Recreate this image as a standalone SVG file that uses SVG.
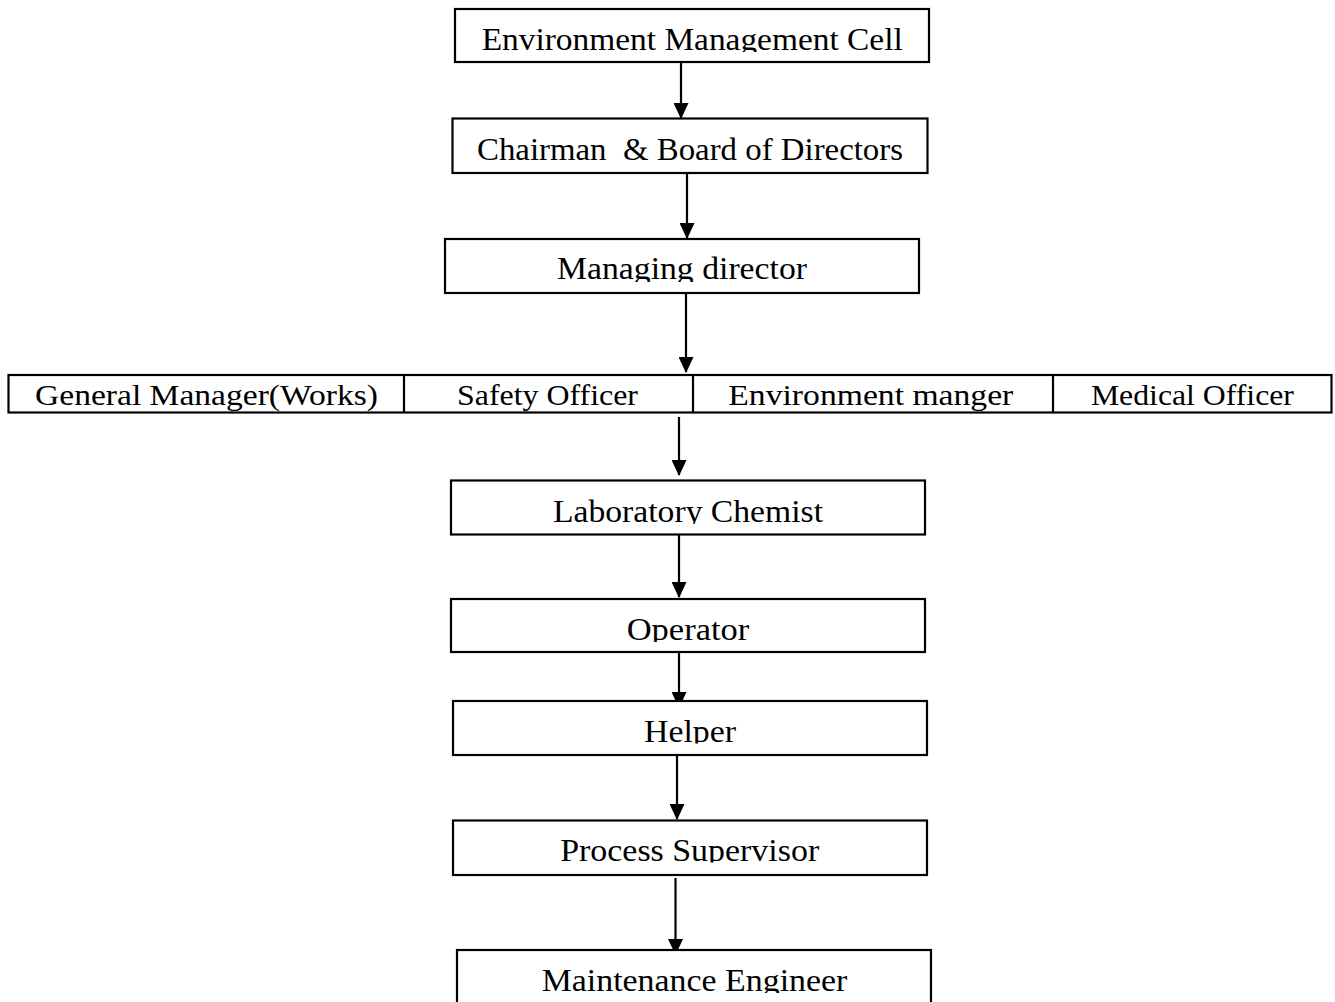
<svg xmlns="http://www.w3.org/2000/svg" width="1335" height="1002" viewBox="0 0 1335 1002">
<style>
.box{fill:#fff;stroke:#000;stroke-width:2.2}
.lbl{font-family:"Liberation Serif","Times New Roman",serif;font-size:32px;fill:#000;text-anchor:middle}
.rl{font-family:"Liberation Serif","Times New Roman",serif;font-size:30px;fill:#000;text-anchor:middle}
.conn{stroke:#000;stroke-width:2.2;fill:none}
</style>
<defs>
<marker id="ah" viewBox="0 0 16 15" refX="15" refY="7.5" markerWidth="16" markerHeight="15" markerUnits="userSpaceOnUse" orient="auto">
<path d="M0,0 L16,7.5 L0,15 z" fill="#000"/>
</marker>
<clipPath id="c1"><rect x="455" y="9" width="474" height="43"/></clipPath>
<clipPath id="c3"><rect x="445" y="239" width="474" height="43"/></clipPath>
<clipPath id="c5"><rect x="451" y="480" width="474" height="44"/></clipPath>
<clipPath id="c6"><rect x="451" y="599" width="474" height="43"/></clipPath>
<clipPath id="c7"><rect x="453" y="701" width="474" height="42.5"/></clipPath>
<clipPath id="c8"><rect x="453" y="820" width="474" height="42.5"/></clipPath>
<clipPath id="c9"><rect x="457" y="950" width="474" height="43"/></clipPath>
</defs>
<rect width="1335" height="1002" fill="#fff"/>

<g id="connectors">
<line class="conn" x1="681" y1="62" x2="681" y2="118" marker-end="url(#ah)"/>
<line class="conn" x1="687" y1="173" x2="687" y2="238" marker-end="url(#ah)"/>
<line class="conn" x1="686" y1="293" x2="686" y2="372" marker-end="url(#ah)"/>
<line class="conn" x1="679" y1="417" x2="679" y2="475" marker-end="url(#ah)"/>
<line class="conn" x1="679" y1="534" x2="679" y2="597" marker-end="url(#ah)"/>
<line class="conn" x1="679" y1="650" x2="679" y2="707" marker-end="url(#ah)"/>
<line class="conn" x1="677" y1="755" x2="677" y2="819" marker-end="url(#ah)"/>
<line class="conn" x1="675.5" y1="878" x2="675.5" y2="954" marker-end="url(#ah)"/>
</g>

<g id="n-emc">
<rect class="box" x="455" y="9" width="474" height="53"/>
<text class="lbl" x="692.2" y="50" textLength="421" lengthAdjust="spacingAndGlyphs" clip-path="url(#c1)">Environment Management Cell</text>
</g>
<g id="n-chairman">
<rect class="box" x="452.5" y="118.5" width="475" height="54.5"/>
<text class="lbl" x="690" y="160" textLength="426" lengthAdjust="spacingAndGlyphs" xml:space="preserve">Chairman  &amp; Board of Directors</text>
</g>
<g id="n-md">
<rect class="box" x="445" y="239" width="474" height="54"/>
<text class="lbl" x="682" y="279" textLength="250" lengthAdjust="spacingAndGlyphs" clip-path="url(#c3)">Managing director</text>
</g>

<g id="n-row">
<rect class="box" x="8.5" y="375" width="1323" height="37.5"/>
<line class="conn" x1="404" y1="375" x2="404" y2="412.5"/>
<line class="conn" x1="693" y1="375" x2="693" y2="412.5"/>
<line class="conn" x1="1053" y1="375" x2="1053" y2="412.5"/>
</g>
<g id="n-gm">
<text class="rl" x="206.5" y="405" textLength="343" lengthAdjust="spacingAndGlyphs">General Manager(Works)</text>
</g>
<g id="n-safety">
<text class="rl" x="547.5" y="405" textLength="181" lengthAdjust="spacingAndGlyphs">Safety Officer</text>
</g>
<g id="n-envmgr">
<text class="rl" x="870.8" y="405" textLength="285" lengthAdjust="spacingAndGlyphs">Environment manger</text>
</g>
<g id="n-medical">
<text class="rl" x="1192.4" y="405" textLength="203" lengthAdjust="spacingAndGlyphs">Medical Officer</text>
</g>

<g id="n-lab">
<rect class="box" x="451" y="480.5" width="474" height="54"/>
<text class="lbl" x="688" y="521.7" textLength="270" lengthAdjust="spacingAndGlyphs" clip-path="url(#c5)">Laboratory Chemist</text>
</g>
<g id="n-operator">
<rect class="box" x="451" y="599" width="474" height="53"/>
<text class="lbl" x="688" y="640" textLength="122.6" lengthAdjust="spacingAndGlyphs" clip-path="url(#c6)">Operator</text>
</g>
<g id="n-helper">
<rect class="box" x="453" y="701" width="474" height="54"/>
<text class="lbl" x="690" y="741.5" textLength="92" lengthAdjust="spacingAndGlyphs" clip-path="url(#c7)">Helper</text>
</g>
<g id="n-ps">
<rect class="box" x="453" y="820.5" width="474" height="54.5"/>
<text class="lbl" x="689.7" y="860.5" textLength="259" lengthAdjust="spacingAndGlyphs" clip-path="url(#c8)">Process Supervisor</text>
</g>
<g id="n-me">
<rect class="box" x="457" y="950" width="474" height="60"/>
<text class="lbl" x="694.5" y="991" textLength="305.7" lengthAdjust="spacingAndGlyphs" clip-path="url(#c9)">Maintenance Engineer</text>
</g>
</svg>
